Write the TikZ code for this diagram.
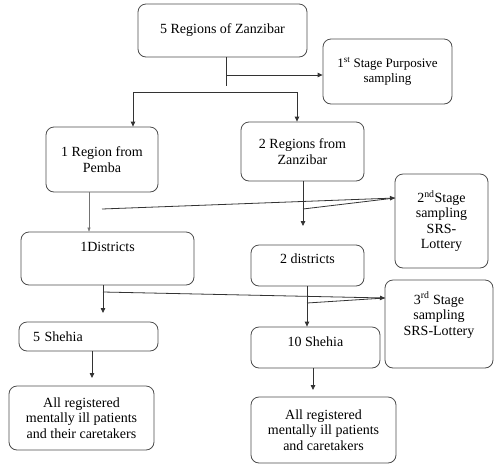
\documentclass[tikz,border=0pt]{standalone}
\usepackage{fontspec}
\setmainfont{Liberation Serif}
\usetikzlibrary{arrows.meta}
\begin{document}
\begin{tikzpicture}[x=1pt,y=-1pt,
  box/.style={draw=black!70,line width=0.8pt,rounded corners=8pt,inner sep=2pt,align=center,
    font=\fontsize{14}{15.5}\selectfont},
  ln/.style={draw=black!80,line width=0.8pt},
  arr/.style={ln,-{Triangle[length=5pt,width=4.5pt]}},
  thin arr/.style={draw=black!55,line width=0.5pt,-{Triangle[length=4pt,width=3pt]}},
  toplab/.style={font=\fontsize{14}{15.5}\selectfont,align=center,anchor=north}]
\useasboundingbox (0,0) rectangle (496,467);
% boxes
\node[box,minimum width=169pt,minimum height=53pt] (top) at (222.5,30.5) {5 Regions of Zanzibar};
\node[box,minimum width=129pt,minimum height=65pt,font=\fontsize{13}{15}\selectfont] (s1) at (387.5,71.5) {1\textsuperscript{st} Stage Purposive\\sampling};
\node[box,minimum width=112pt,minimum height=65pt] (r1) at (102,159.5) {1 Region from\\Pemba};
\node[box,minimum width=123pt,minimum height=59pt] (r2) at (302.5,151.5) {2 Regions from\\Zanzibar};
\node[box,minimum width=93pt,minimum height=94pt] (s2) at (441.5,221) {2\textsuperscript{nd}Stage\\sampling\\SRS-\\Lottery};
\node[box,minimum width=173pt,minimum height=53pt,
  label={[toplab,yshift=-7pt]north:1Districts}] (d1) at (107.5,258.5) {};
\node[box,minimum width=113pt,minimum height=41pt] (d2) at (307.5,265.5) {\raisebox{13pt}{2 districts}};
\node[box,minimum width=108pt,minimum height=88pt,
  label={[toplab,yshift=-9pt]north:3\textsuperscript{rd} Stage\\sampling\\SRS-Lottery}] (s3) at (439,324) {};
\node[box,minimum width=139pt,minimum height=29pt,text width=129pt,align=left] (sh5) at (88.5,336.5) {\hspace*{9pt}5 Shehia};
\node[box,minimum width=129pt,minimum height=41pt] (sh10) at (315.5,347.5) {\raisebox{12pt}{10 Shehia}};
\node[box,minimum width=145pt,minimum height=64pt] (a1) at (81.5,418) {All registered\\mentally ill patients\\and their caretakers};
\node[box,minimum width=145pt,minimum height=66pt] (a2) at (323.5,430) {All registered\\mentally ill patients\\and caretakers};
% connector points
\coordinate (j0) at (226,75);
\coordinate (j1) at (226,86);
\coordinate (h1) at (133,92);
\coordinate (h2) at (297,92);
\coordinate (p1) at (89,192);
\coordinate (b1) at (102,209);
\coordinate (b2) at (303,209);
\coordinate (t2) at (395,198);
\coordinate (e2) at (303,226);
\coordinate (q1) at (103,285);
\coordinate (e3) at (103,313);
\coordinate (c1) at (103,292);
\coordinate (c2) at (307,303);
\coordinate (t3) at (385,298);
\coordinate (q5) at (92,351);
\coordinate (e5) at (92,378);
\coordinate (q10) at (313,368);
\coordinate (e10) at (313,390);
% connectors
\draw[ln] (top.south -| j1) -- (j1);
\draw[arr] (j0) -- (j0 -| s1.west);
\draw[arr] (h1) -- (h1 |- r1.north);
\draw[arr] (h1) -- (h2) -- (h2 |- r2.north);
\draw[thin arr] (p1) -- (p1 |- d1.north);
\draw[arr] (b1) -- (t2);
\draw[ln] (b2) -- (t2);
\draw[arr] (r2.south -| e2) -- (e2);
\draw[arr] (q1) -- (e3);
\draw[arr] (c1) -- (t3);
\draw[ln] (c2) -- (t3);
\draw[arr] (d2.south -| c2) -- (c2 |- sh10.north);
\draw[arr] (q5) -- (e5);
\draw[arr] (q10) -- (e10);
\end{tikzpicture}
\end{document}
